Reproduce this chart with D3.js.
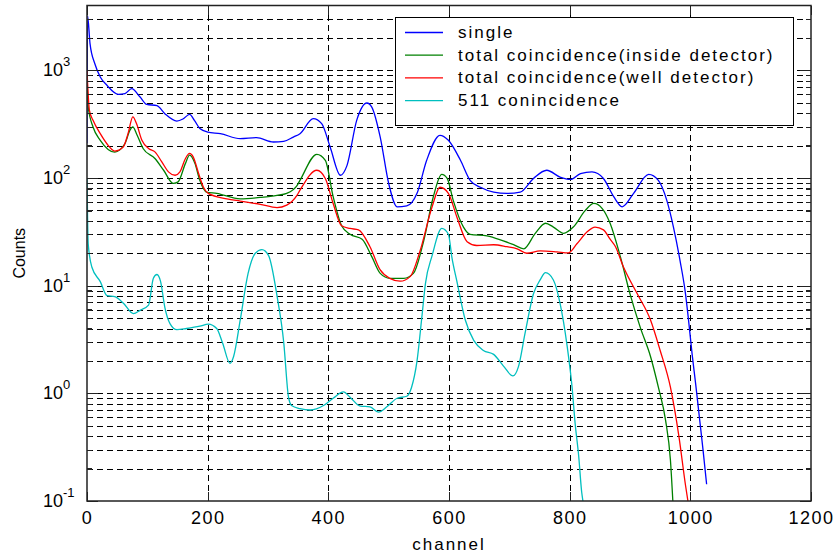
<!DOCTYPE html>
<html>
<head>
<meta charset="utf-8">
<script src="https://cdn.jsdelivr.net/npm/d3@7"></script>
<style>
  body { margin: 0; background: #fff; }
  text { font-family: "Liberation Sans", Arial, Helvetica, sans-serif; fill: #000; }
</style>
</head>
<body>
<svg id="chart" width="836" height="555"></svg>
<script>
// ---- data -------------------------------------------------------------
const seriesNames = [
  "single",
  "total coincidence(inside detector)",
  "total coincidence(well detector)",
  "511 conincidence"
];
const seriesColors = ["#0000ff", "#008000", "#ff0000", "#00bfbf"];

const singleChannel = [0,1,5,13,22,33,52,63,74,88,99,116,129,149,159,170,178,187,200,221,254,281,309,326,342,353,375,389,403,420,431,447,464,472,486,500,514,530,547,563,585,599,619,635,652,674,696,718,740,762,784,801,818,837,856,873,887,906,931,947,961,972,983,992,997,1003,1009,1015,1021,1027];
const singleCounts = [210,3200,1770,1150,867,726,599,608,676,565,483,470,396,338,353,390,343,288,267,258,232,237,216,219,240,258,356,320,194,106,131,343,497,456,240,89,54,55,72,146,249,224,146,95,82,74,72,74,99,118,102,97,110,114,99,67,54,72,108,95,62,35,17,8.4,4.8,2.3,1.2,0.6,0.3,0.143];

const insideChannel = [0,2,10,22,46,63,71,76,82,93,113,127,143,151,163,170,179,187,198,215,254,287,315,331,348,353,381,395,408,422,436,456,472,486,502,525,541,558,574,588,597,607,624,635,663,690,707,724,743,760,773,790,806,826,840,854,867,884,900,917,934,947,959,967,971];
const insideCounts = [900,456,298,224,174,209,277,298,258,188,151,118,89,92,136,163,136,95,74,72,64,66,69,72,85,95,166,146,67,36,30,27,18.6,13,11.7,11.7,13,26,67,108,99,62,35,30,29,26,24,22,30.6,38,35,30.6,35,50,58,52,38,18.6,8.4,4.1,2.2,1.14,0.56,0.24,0.1];

const wellChannel = [0,4,10,22,33,46,60,68,76,82,91,102,113,124,135,146,154,163,170,176,185,193,201,232,254,287,315,331,348,353,381,395,408,422,436,450,469,486,502,519,536,552,572,585,599,613,630,646,674,696,713,729,751,779,798,812,829,842,856,867,876,889,912,934,950,967,981,992,996];
const wellCounts = [1000,425,343,258,208,178,194,258,369,320,224,188,174,141,114,106,114,151,169,157,110,82,72,64,61,57,53,56,69,77,118,99,58,36,34,33,23,14,11.7,11,12.2,21,54,82,72,43.5,25.6,23.6,24,23,22,20,21,20.6,20.2,24.5,31.6,35,33,27,23,15,8.4,4.8,2.5,1.14,0.4,0.14,0.1];

const annihChannel = [0,1,2,8,22,33,46,60,77,88,102,110,116,122,129,138,149,165,187,201,215,225,237,243,254,267,279,290,301,315,326,334,339,353,370,392,408,425,436,453,469,483,497,514,530,538,547,555,561,572,588,599,605,613,627,641,657,674,690,706,715,726,740,751,760,773,784,796,804,809,815,820,822];
const annihCounts = [100,42,24.5,14.9,10.9,8.1,7.9,6.9,5.5,5.9,6.6,11.7,12.7,10.9,6.3,4.4,3.9,4.0,4.2,4.4,4.0,2.9,1.9,2.2,4.8,13,20,21.6,19,8,3,0.92,0.77,0.72,0.70,0.77,0.9,1.03,0.92,0.76,0.75,0.67,0.75,0.9,0.94,1.14,2.0,5.1,10.5,19,34,30,18,11,4.8,3.1,2.5,2.3,1.8,1.45,1.76,3.6,8.4,11.3,13.2,11.3,6.9,2.7,1.14,0.53,0.26,0.12,0.1];

const xTickValues = [0, 200, 400, 600, 800, 1000, 1200];
const yTickValues = [0.1, 1, 10, 100, 1000];
const yTickExponents = ["-1", "0", "1", "2", "3"];
const xLabel = "channel";
const yLabel = "Counts";

// ---- layout -----------------------------------------------------------
const plot = { left: 87, right: 811, top: 5.5, bottom: 501 };
const x = d3.scaleLinear().domain([0, 1200]).range([plot.left, plot.right]);
const y = d3.scaleLog().domain([0.1, 4000]).range([plot.bottom, plot.top]);

const svg = d3.select("#chart");
svg.append("rect").attr("width", 836).attr("height", 555).attr("fill", "#fff");

svg.append("defs").append("clipPath").attr("id", "plotClip")
  .append("rect")
  .attr("x", plot.left).attr("y", plot.top)
  .attr("width", plot.right - plot.left).attr("height", plot.bottom - plot.top);

// ---- grid -------------------------------------------------------------
const gridY = y.ticks().filter(v => v > 0.1 && v < 4000);
svg.append("g")
  .attr("transform", `translate(${plot.left},0)`)
  .call(d3.axisLeft(y).tickValues(gridY).tickSize(-(plot.right - plot.left)).tickFormat(""))
  .call(g => g.select(".domain").remove())
  .selectAll("line")
  .attr("stroke", "#000").attr("stroke-width", 1)
  .attr("stroke-dasharray", "6,4").attr("shape-rendering", "crispEdges");

svg.append("g")
  .attr("transform", `translate(0,${plot.bottom})`)
  .call(d3.axisBottom(x).tickValues(xTickValues.filter(v => v > 0 && v < 1200))
        .tickSize(-(plot.bottom - plot.top)).tickFormat(""))
  .call(g => g.select(".domain").remove())
  .selectAll("line")
  .attr("stroke", "#000").attr("stroke-width", 1)
  .attr("stroke-dasharray", "6,4").attr("shape-rendering", "crispEdges");

// ---- curves -----------------------------------------------------------
const series = [
  { ch: singleChannel, counts: singleCounts },
  { ch: insideChannel, counts: insideCounts },
  { ch: wellChannel, counts: wellCounts },
  { ch: annihChannel, counts: annihCounts }
];
const line = d3.line()
  .x(d => x(d[0]))
  .y(d => y(d[1]))
  .curve(d3.curveMonotoneX);

const curves = svg.append("g").attr("clip-path", "url(#plotClip)");
series.forEach((s, i) => {
  curves.append("path")
    .datum(d3.zip(s.ch, s.counts))
    .attr("fill", "none")
    .attr("stroke", seriesColors[i])
    .attr("stroke-width", 1.3)
    .attr("d", line);
});

// ---- axes box and ticks ----------------------------------------------
const minorY = gridY.filter(v => !yTickValues.includes(v));
function styleTicks(g) {
  g.select(".domain").remove();
  g.selectAll("line").attr("stroke", "#222").attr("stroke-width", 1.2)
    .attr("shape-rendering", "crispEdges");
}
svg.append("g").attr("transform", `translate(${plot.left},0)`)
  .call(d3.axisLeft(y).tickValues(minorY).tickSize(-5).tickFormat("")).call(styleTicks);
svg.append("g").attr("transform", `translate(${plot.right},0)`)
  .call(d3.axisRight(y).tickValues(minorY).tickSize(-5).tickFormat("")).call(styleTicks);
svg.append("g").attr("transform", `translate(${plot.right},0)`)
  .call(d3.axisRight(y).tickValues(yTickValues).tickSize(-11).tickFormat("")).call(styleTicks);
svg.append("g").attr("transform", `translate(0,${plot.top})`)
  .call(d3.axisTop(x).tickValues(xTickValues).tickSize(-9).tickFormat("")).call(styleTicks);

// bottom axis with labels
const xAxis = svg.append("g").attr("transform", `translate(0,${plot.bottom})`)
  .call(d3.axisBottom(x).tickValues(xTickValues).tickSize(-9).tickPadding(10).tickFormat(d3.format("d")))
  .call(styleTicks);
xAxis.selectAll("text")
  .attr("font-size", 18).attr("letter-spacing", "1.5px")
  .attr("font-family", "Liberation Sans, Arial, sans-serif").attr("fill", "#000");

// left axis with 10^n labels
const yAxis = svg.append("g").attr("transform", `translate(${plot.left},0)`)
  .call(d3.axisLeft(y).tickValues(yTickValues).tickSize(-11).tickFormat(""))
  .call(styleTicks);
yAxis.selectAll(".tick text").each(function (d) {
  const t = d3.select(this)
    .attr("x", -44).attr("y", 5.5).attr("dy", null)
    .attr("text-anchor", "start")
    .attr("font-family", "Liberation Sans, Arial, sans-serif")
    .attr("fill", "#000");
  t.append("tspan").attr("font-size", 18).text("10");
  t.append("tspan").attr("font-size", 13).attr("dy", -10).text(yTickExponents[yTickValues.indexOf(d)]);
});

svg.append("rect")
  .attr("x", plot.left).attr("y", plot.top)
  .attr("width", plot.right - plot.left).attr("height", plot.bottom - plot.top)
  .attr("fill", "none").attr("stroke", "#222").attr("stroke-width", 1.5);

// ---- axis titles ------------------------------------------------------
svg.append("text")
  .attr("x", (plot.left + plot.right) / 2).attr("y", 550)
  .attr("text-anchor", "middle").attr("font-size", 17).attr("letter-spacing", "2px")
  .text(xLabel);

svg.append("text")
  .attr("transform", `translate(25,${(plot.top + plot.bottom) / 2}) rotate(-90)`)
  .attr("text-anchor", "middle").attr("font-size", 16)
  .text(yLabel);

// ---- legend -----------------------------------------------------------
const legend = svg.append("g").attr("transform", "translate(395,17)");
legend.append("rect")
  .attr("width", 398).attr("height", 108)
  .attr("fill", "#fff").attr("stroke", "#000").attr("stroke-width", 1)
  .attr("shape-rendering", "crispEdges");
seriesNames.forEach((name, i) => {
  const cy = 15.5 + i * 22.7;
  legend.append("line")
    .attr("x1", 10).attr("x2", 48).attr("y1", cy).attr("y2", cy)
    .attr("stroke", seriesColors[i]).attr("stroke-width", 1.3);
  legend.append("text")
    .attr("x", 63).attr("y", cy + 5.5)
    .attr("font-size", 17).attr("letter-spacing", "2px")
    .text(name);
});
</script>
</body>
</html>
